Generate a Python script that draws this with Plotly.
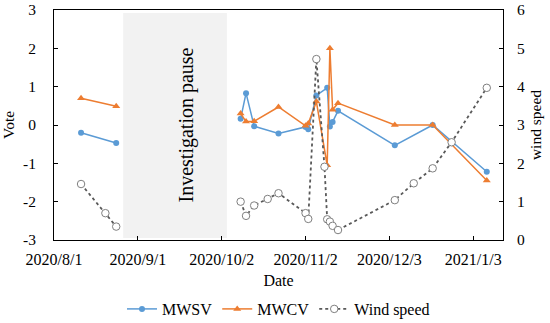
import plotly.graph_objects as go

# ---- data ----
vote_dates = ["2020-08-11", "2020-08-24", "2020-09-15",
              "2020-10-09", "2020-10-11", "2020-10-14", "2020-10-23",
              "2020-11-02", "2020-11-03", "2020-11-06", "2020-11-10",
              "2020-11-11", "2020-11-12", "2020-11-14", "2020-12-05",
              "2020-12-19", "2021-01-08"]
mwsv = [-0.2, -0.47, None,
        0.16, 0.83, -0.03, -0.22,
        -0.05, -0.11, 0.77, 0.97,
        -0.04, 0.08, 0.37, -0.53,
        0.0, -1.22]
mwcv = [0.70, 0.49, None,
        0.30, 0.09, 0.10, 0.47,
        -0.02, 0.04, 0.61, -1.05,
        2.0, 0.40, 0.57, 0.0,
        0.0, -1.45]

wind_dates = ["2020-08-11", "2020-08-20", "2020-08-24", "2020-09-15",
              "2020-10-09", "2020-10-11", "2020-10-14", "2020-10-19",
              "2020-10-23", "2020-11-02", "2020-11-03", "2020-11-06",
              "2020-11-09", "2020-11-10", "2020-11-11", "2020-11-12",
              "2020-11-14", "2020-12-05", "2020-12-12", "2020-12-19",
              "2020-12-26", "2021-01-08"]
wind = [1.46, 0.70, 0.35, None,
        1.0, 0.63, 0.9, 1.07,
        1.22, 0.70, 0.55, 4.72,
        1.91, 0.54, 0.48, 0.37,
        0.26, 1.04, 1.48, 1.87,
        2.55, 3.97]

tick_dates = ["2020-08-01", "2020-09-01", "2020-10-02", "2020-11-02",
              "2020-12-03", "2021-01-03"]
tick_text = ["2020/8/1", "2020/9/1", "2020/10/2", "2020/11/2",
             "2020/12/3", "2021/1/3"]
vote_ticks = [-3, -2, -1, 0, 1, 2, 3]
vote_tick_text = ["-3", "-2", "-1", "0", "1", "2", "3"]
wind_ticks = [0, 1, 2, 3, 4, 5, 6]

FONT = "Liberation Serif"
TF = dict(family=FONT, size=16, color="black")
YF = dict(family=FONT, size=15.5, color="black")

fig = go.Figure()
fig.add_trace(go.Scatter(
    x=vote_dates, y=mwsv, name="MWSV", mode="lines+markers",
    line=dict(color="#5B9BD5", width=1.5),
    marker=dict(symbol="circle", size=6, color="#5B9BD5"),
    connectgaps=False))
fig.add_trace(go.Scatter(
    x=vote_dates, y=mwcv, name="MWCV", mode="lines+markers",
    line=dict(color="#ED7D31", width=1.5),
    marker=dict(symbol="triangle-up", size=7, color="#ED7D31"),
    connectgaps=False))
fig.add_trace(go.Scatter(
    x=wind_dates, y=wind, name="Wind speed", mode="lines+markers", yaxis="y2",
    line=dict(color="#595959", width=1.8, dash="dot"),
    marker=dict(symbol="circle", size=7.5, color="white",
                line=dict(color="#7F7F7F", width=1)),
    connectgaps=False))

fig.add_shape(type="rect", xref="paper", yref="paper",
              x0=0.154, x1=0.385, y0=0.009, y1=0.987,
              fillcolor="#F2F2F2", line=dict(width=0), layer="below")
fig.add_annotation(text="Investigation pause", xref="paper", yref="paper",
                   x=0.265, y=0.5, textangle=-90, showarrow=False,
                   font=dict(family=FONT, size=20, color="black"))

fig.update_layout(
    width=550, height=323,
    margin=dict(l=54, r=47, t=10, b=83, autoexpand=False),
    paper_bgcolor="white", plot_bgcolor="white",
    font=TF,
    showlegend=True,
    legend=dict(orientation="h", x=0.5, xanchor="center", y=-0.30,
                yanchor="middle", font=TF, itemwidth=30,
                tracegroupgap=0),
    xaxis=dict(type="date", range=["2020-08-01", "2021-01-14"],
               tickvals=tick_dates, ticktext=tick_text, tickfont=TF,
               showline=True, linecolor="black", linewidth=1, mirror=True,
               ticks="inside", ticklen=4, tickcolor="black",
               showgrid=False, zeroline=False, automargin=False,
               ticklabelstandoff=5,
               title=dict(text="Date", standoff=7, font=TF)),
    yaxis=dict(range=[-3, 3], tickvals=vote_ticks, ticktext=vote_tick_text,
               tickfont=YF, showline=True, linecolor="black",
               linewidth=1, ticks="inside", ticklen=4, tickcolor="black",
               showgrid=False, zeroline=False, ticklabelstandoff=14,
               automargin=False,
               title=dict(text="Vote", standoff=4, font=YF)),
    yaxis2=dict(range=[0, 6], tickvals=wind_ticks, overlaying="y", side="right",
                tickfont=YF, showline=True, linecolor="black", linewidth=1,
                ticks="inside", ticklen=4, tickcolor="black",
                showgrid=False, zeroline=False, ticklabelstandoff=10,
                automargin=False,
                title=dict(text="wind speed", standoff=6, font=YF)),
)

fig.write_html("out.html",
               config={"displayModeBar": False},
               post_script="document.body.style.margin='0';")
